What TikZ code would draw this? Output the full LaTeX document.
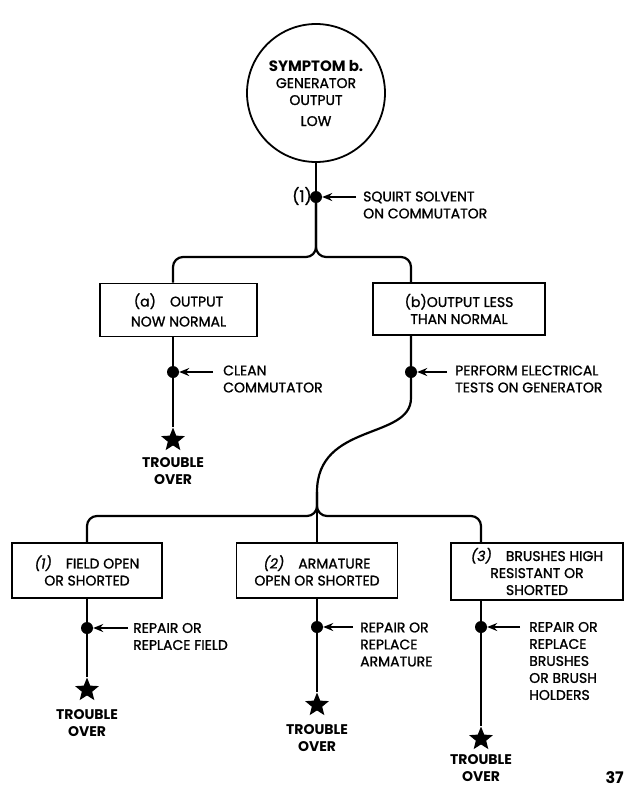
\documentclass[tikz,border=0pt]{standalone}
\usepackage{fontspec}
\setmainfont{Poppins}[UprightFeatures={FakeBold=1.2},ItalicFeatures={FakeBold=1.2}]
\usetikzlibrary{shapes.geometric,arrows.meta,calc}
\tikzset{
	wire/.style={line width=2.2pt},
	blob/.style={circle,fill,inner sep=0pt,minimum size=12pt},
	endstar/.style={star,star points=5,star point ratio=2.3,fill,inner sep=0pt,minimum size=25pt},
	tbox/.style={draw,line width=1.8pt,inner sep=0pt,align=center},
	hint/.style={anchor=west,inner sep=0pt,align=left},
	push/.style={line width=1.6pt,-{Stealth[length=10pt,width=8pt]}},
	over/.style={inner sep=0pt,align=center,font=\fontsize{14}{17}\selectfont\bfseries}
}

\begin{document}
\begin{tikzpicture}[x=1pt,y=-1pt,font=\fontsize{14}{17}\selectfont]
	\useasboundingbox (0,0) rectangle (625,788);
	\node[circle,draw,line width=1.8pt,minimum size=138pt,inner sep=0pt,align=center] (sym) at (316,93)
		{{\fontsize{15}{17}\selectfont\bfseries SYMPTOM b.}\\GENERATOR\\OUTPUT\\[4pt]LOW};
	\node[blob] (d0) at (316,197) {};
	\node[inner sep=0pt,font=\fontsize{16}{17}\selectfont] (n0) at (302,196) {(1)};
	\coordinate (t0) at (356,197);
	\node[hint] (h0) at (363,205) {SQUIRT SOLVENT\\ON COMMUTATOR};
	\coordinate (ja) at (316,257);
	% first split
	\node[tbox,minimum width=157pt,minimum height=53pt] (ba) at (178.5,310) {(a)\quad OUTPUT\\[3pt]NOW NORMAL};
	\node[tbox,minimum width=172pt,minimum height=52pt] (bb) at (459,309) {(b)OUTPUT LESS\\THAN NORMAL};
	\node[blob] (da) at (173,372) {};
	\node[blob] (db) at (411,372) {};
	\coordinate (ta) at (213,372);
	\coordinate (tb) at (447,372);
	\node[hint] (ha) at (223,379) {CLEAN\\COMMUTATOR};
	\node[hint] (hb) at (455,379) {PERFORM ELECTRICAL\\TESTS ON GENERATOR};
	\node[endstar] (sa) at (173,440) {};
	\node[over] (oa) at (173,471) {TROUBLE\\OVER};
	\coordinate (sb1) at (411,398);
	\coordinate (sb2) at (317,492);
	\coordinate (jb) at (317,516);
	% second split
	\node[tbox,minimum width=150pt,minimum height=55pt] (b1) at (87,570.5) {\textit{(1)}\quad FIELD OPEN\\OR SHORTED};
	\node[tbox,minimum width=161pt,minimum height=55pt] (b2) at (317,570.5) {\textit{(2)}\quad ARMATURE\\OPEN OR SHORTED};
	\node[tbox,minimum width=172pt,minimum height=57pt] (b3) at (537,571.5) {\textit{(3)}\quad BRUSHES HIGH\\RESISTANT OR\\SHORTED};
	\node[blob] (d1) at (87,628) {};
	\node[blob] (d2) at (317,627) {};
	\node[blob] (d3) at (481,627) {};
	\coordinate (t1) at (128,628);
	\coordinate (t2) at (353,627);
	\coordinate (t3) at (520,627);
	\node[hint] (h1) at (133,636.5) {REPAIR OR\\REPLACE FIELD};
	\node[hint] (h2) at (360,644.5) {REPAIR OR\\REPLACE\\ARMATURE};
	\node[hint] (h3) at (529,661) {REPAIR OR\\REPLACE\\BRUSHES\\OR BRUSH\\HOLDERS};
	\node[endstar] (s1) at (87,690) {};
	\node[endstar] (s2) at (317,705) {};
	\node[endstar] (s3) at (481,739) {};
	\node[over] (o1) at (87,723.5) {TROUBLE\\OVER};
	\node[over] (o2) at (317,738.5) {TROUBLE\\OVER};
	\node[over] (o3) at (481,768) {TROUBLE\\OVER};
	\node[anchor=east,inner sep=0pt,font=\fontsize{16}{16}\selectfont\bfseries] (pg) at (624,778) {37};
	% lines
	\draw[wire] (sym) -- (d0);
	\draw[wire,rounded corners=10pt] (d0) -- (ja) -| (da |- ba.north);
	\draw[wire,rounded corners=10pt] (d0) -- (ja) -| (db |- bb.north);
	\draw[wire] (da |- ba.south) -- (da) -- (sa);
	\draw[wire] (db |- bb.south) -- (db) -- (sb1) .. controls +(0,42) and +(0,-70) .. (sb2);
	\draw[wire,rounded corners=10pt] (sb2) -- (jb) -| (d1 |- b1.north);
	\draw[wire,rounded corners=10pt] (sb2) -- (jb) -| (d3 |- b3.north);
	\draw[wire] (sb2) -- (b2.north);
	\draw[wire] (b1.south) -- (d1) -- (s1);
	\draw[wire] (b2.south) -- (d2) -- (s2);
	\draw[wire] (d3 |- b3.south) -- (d3) -- (s3);
	\draw[push] (t0) -- (d0);
	\draw[push] (ta) -- (da);
	\draw[push] (tb) -- (db);
	\draw[push] (t1) -- (d1);
	\draw[push] (t2) -- (d2);
	\draw[push] (t3) -- (d3);
\end{tikzpicture}
\end{document}
